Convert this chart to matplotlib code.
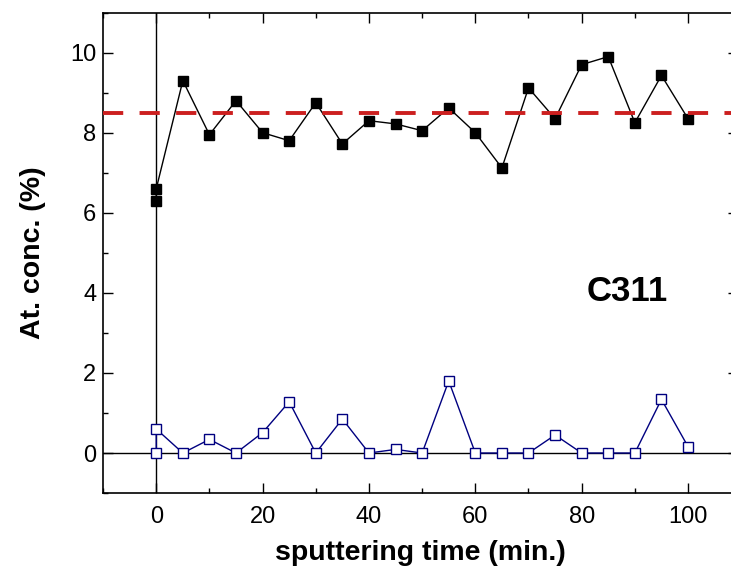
import matplotlib
matplotlib.use("Agg")
import matplotlib.pyplot as plt
from matplotlib.ticker import MultipleLocator

time_top = [0, 0, 5, 10, 15, 20, 25, 30, 35, 40, 45, 50, 55, 60, 65, 70, 75, 80, 85, 90, 95, 100]
conc_top = [6.3, 6.6, 9.3, 7.95, 8.8, 8.0, 7.8, 8.75, 7.72, 8.3, 8.22, 8.05, 8.62, 8.0, 7.12, 9.12, 8.35, 9.7, 9.9, 8.25, 9.43, 8.35]

time_bot = [0, 0, 5, 10, 15, 20, 25, 30, 35, 40, 45, 50, 55, 60, 65, 70, 75, 80, 85, 90, 95, 100]
conc_bot = [0.0, 0.6, 0.0, 0.34, 0.0, 0.51, 1.28, 0.0, 0.85, 0.0, 0.09, 0.0, 1.8, 0.0, 0.0, 0.0, 0.45, 0.0, 0.0, 0.0, 1.34, 0.16]

mean_level = 8.5
sample_label = "C311"
x_ticks = [0, 20, 40, 60, 80, 100]
y_ticks = [0, 2, 4, 6, 8, 10]

plt.rcParams['font.family'] = ['Liberation Sans', 'DejaVu Sans']

fig = plt.figure(figsize=(7.31, 5.72), dpi=100)
# right spine lies just beyond the image edge, as in the reference
ax = fig.add_axes([0.141, 0.138, 0.8686, 0.840])

ax.axvline(0, color='black', lw=1.0, zorder=1)
ax.axhline(0, color='black', lw=1.0, zorder=1)

ax.plot(time_top, conc_top, color='black', lw=1.0, marker='s', ms=7.5,
        mfc='black', mec='black', zorder=3)
ax.plot(time_bot, conc_bot, color='#000080', lw=1.0, marker='s', ms=7,
        mfc='white', mec='#000080', mew=1.0, zorder=3)

ax.axhline(mean_level, color='#cc1f1f', lw=2.8, dashes=(5.2, 4.2), zorder=4)

ax.text(88.5, 4.04, sample_label, fontsize=25, fontweight='bold', ha='center', va='center')

ax.set_xlim(-10, 109.4)
ax.set_ylim(-1, 11)
ax.set_xticks(x_ticks)
ax.set_yticks(y_ticks)
ax.xaxis.set_minor_locator(MultipleLocator(10))
ax.yaxis.set_minor_locator(MultipleLocator(1))
ax.tick_params(which='both', direction='in', top=True, right=True, labelsize=17)
ax.tick_params(axis='x', pad=9)
ax.tick_params(axis='y', pad=5)
ax.tick_params(which='major', length=7.5, width=1)
ax.tick_params(which='minor', length=3.5, width=1)
for s in ax.spines.values():
    s.set_linewidth(1.2)

ax.set_xlabel('sputtering time (min.)', fontsize=20.5, fontweight='bold', labelpad=9)
ax.set_ylabel('At. conc. (%)', fontsize=20.5, fontweight='bold', labelpad=17)

fig.savefig('out.png', dpi=100)
